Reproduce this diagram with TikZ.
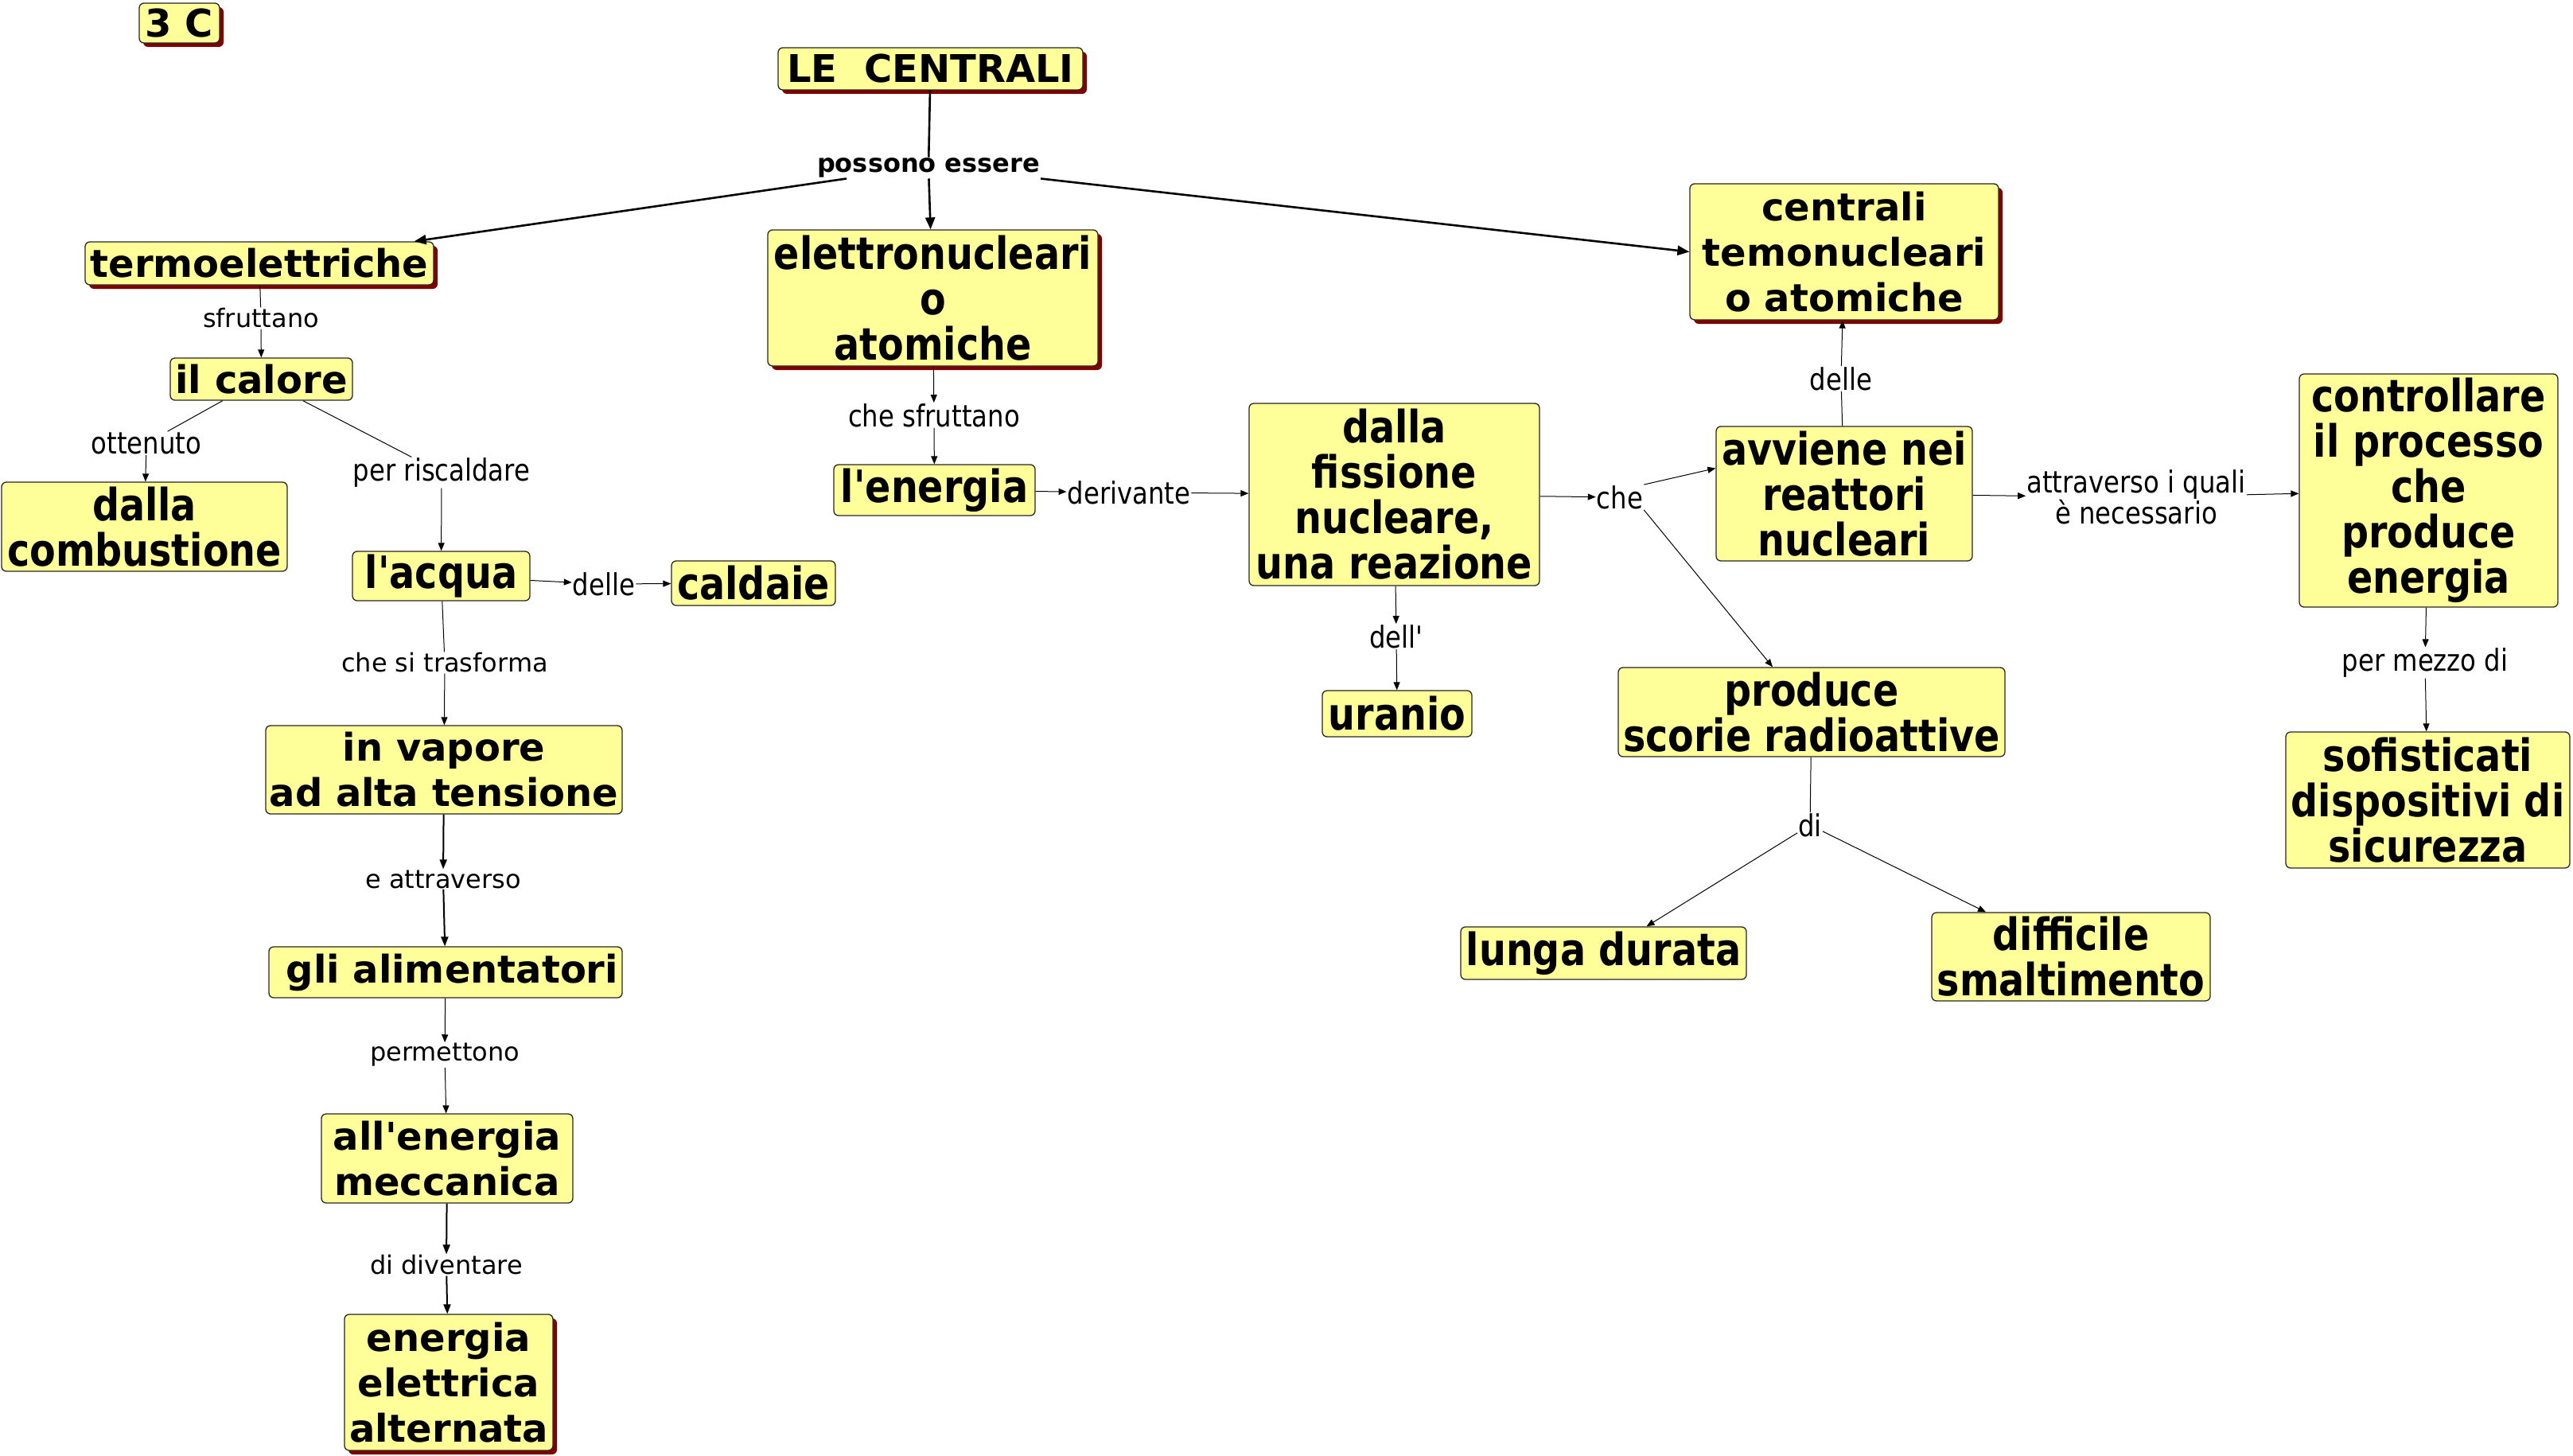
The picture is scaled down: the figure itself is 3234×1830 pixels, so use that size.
\documentclass[tikz,border=0pt]{standalone}
\usepackage{fontspec}
\setmainfont{DejaVu Sans}
\newfontfamily\wfont{DejaVu Sans}
\newfontfamily\cfont[FakeStretch=0.85]{DejaVu Sans}
\usetikzlibrary{arrows.meta,shadows}
\definecolor{boxfill}{HTML}{FFFF99}
\definecolor{shadowred}{HTML}{800000}
\tikzset{
  box/.style={draw=black!85, line width=1.3pt, fill=boxfill, rounded corners=6pt, inner sep=0pt, align=center},
  wbox/.style={box, font=\wfont\bfseries\fontsize{48}{57}\selectfont},
  cbox/.style={box, font=\cfont\bfseries\fontsize{56}{57}\selectfont},
  shad/.style={drop shadow={shadow xshift=5pt, shadow yshift=-5pt, fill=shadowred, opacity=1}},
  wlab/.style={inner sep=1pt, align=center, font=\wfont\fontsize{32}{38}\selectfont},
  clab/.style={inner sep=1pt, align=center, font=\cfont\fontsize{38}{37}\selectfont},
  blab/.style={inner sep=1pt, align=center, font=\wfont\bfseries\fontsize{32}{38}\selectfont},
  ln/.style={draw, line width=1pt},
  arr/.style={ln, -{Triangle[length=10pt,width=8pt]}},
  mln/.style={draw, line width=2pt},
  marr/.style={mln, -{Triangle[length=12pt,width=9pt]}},
  tln/.style={draw, line width=2.6pt},
  tarr/.style={tln, -{Triangle[length=15pt,width=12pt]}},
}
\begin{document}
\begin{tikzpicture}[x=1pt,y=-1pt]
\fill[white] (0,0) rectangle (3234,1830);
\useasboundingbox (0,0) rectangle (3234,1830);

% boxes
\node[wbox, shad, minimum width=101, minimum height=50] (c3) at (225.5,29) {3 C};
\node[wbox, shad, minimum width=383, minimum height=53] (lec) at (1169.5,86.5) {LE\ \ CENTRALI};
\node[wbox, shad, minimum width=438, minimum height=54] (termo) at (326,331) {termoelettriche};
\node[wbox, minimum width=229, minimum height=53] (calore) at (328.5,476.5) {il calore};
\node[cbox, minimum width=359, minimum height=112] (comb) at (181.5,662) {dalla\\combustione};
\node[cbox, minimum width=223, minimum height=62] (acqua) at (554.5,724) {l'acqua};
\node[cbox, minimum width=206, minimum height=56] (caldaie) at (947,733) {caldaie};
\node[wbox, minimum width=448, minimum height=111] (vapore) at (558,967.5) {in vapore\\ad alta tensione};
\node[wbox, minimum width=444, minimum height=64] (alim) at (560,1222) {\ gli alimentatori};
\node[wbox, minimum width=316, minimum height=112] (mecc) at (562,1456) {all'energia\\meccanica};
\node[wbox, shad, minimum width=262, minimum height=171] (elett) at (564,1737.5) {energia\\elettrica\\alternata};
\node[cbox, shad, minimum width=415, minimum height=171] (elnuc) at (1172.5,374.5) {elettronucleari\\o\\atomiche};
\node[cbox, minimum width=253, minimum height=64] (energia) at (1174.5,616) {l'energia};
\node[cbox, minimum width=365, minimum height=229] (fiss) at (1752.5,621.5) {dalla\\fissione\\nucleare,\\una reazione};
\node[cbox, minimum width=188, minimum height=58] (uranio) at (1756,897) {uranio};
\node[wbox, shad, minimum width=388, minimum height=171] (centr) at (2318,316.5) {centrali\\temonucleari\\o atomiche};
\node[cbox, minimum width=322, minimum height=169] (avv) at (2318,620.5) {avviene nei\\reattori\\nucleari};
\node[cbox, minimum width=325, minimum height=293] (contr) at (3052.5,616.5) {controllare\\il processo\\che\\produce\\energia};
\node[cbox, minimum width=357, minimum height=171] (sofi) at (3051.5,1005.5) {sofisticati\\dispositivi di\\sicurezza};
\node[cbox, minimum width=486, minimum height=112] (prod) at (2277,895) {produce\\scorie radioattive};
\node[cbox, minimum width=359, minimum height=66] (lunga) at (2015.5,1198) {lunga durata};
\node[cbox, minimum width=350, minimum height=111] (diff) at (2603,1202.5) {difficile\\smaltimento};

% labels
\node[blab] (pe) at (1167,211) {possono essere};
\node[wlab] (sfr) at (328,400) {sfruttano};
\node[clab] (ott) at (184,557) {ottenuto};
\node[clab] (perr) at (555,594) {per riscaldare};
\node[clab] (delle1) at (759,734) {delle};
\node[wlab] (chest) at (559,833) {che si trasforma};
\node[wlab] (eattr) at (557,1105) {e attraverso};
\node[wlab] (perm) at (559,1326) {permettono};
\node[wlab] (didiv) at (561,1590) {di diventare};
\node[clab] (chesfr) at (1174,522) {che sfruttano};
\node[clab] (deriv) at (1419,619) {derivante};
\node[clab] (dell) at (1755,800) {dell'};
\node[clab] (che) at (2036,625) {che};
\node[clab] (delle2) at (2314,476) {delle};
\node[clab] (attr) at (2685,625) {attraverso i quali\\è necessario};
\node[clab] (pmd) at (3048,833) {per mezzo di};
\node[clab] (di) at (2275,1037) {di};

% connectors
\draw[tln] (lec) -- (pe);
\draw[tarr] (pe) -- (elnuc);
\draw[tarr] ([xshift=38pt]pe.south west) -- ([xshift=-25pt]termo.north east);
\draw[tarr] (pe.south east) -- (centr.west);

\draw[ln] (termo) -- (sfr);
\draw[arr] (sfr) -- (calore);
\draw[ln] (calore) -- (ott);
\draw[arr] (ott) -- (comb);
\draw[ln] (calore) -- (perr);
\draw[arr] (perr) -- (acqua);
\draw[arr] (acqua) -- (delle1);
\draw[arr] (delle1) -- (caldaie);
\draw[ln] (acqua) -- (chest);
\draw[arr] (chest) -- (vapore);
\draw[marr] (vapore) -- (eattr);
\draw[marr] (eattr) -- (alim);
\draw[arr] (alim) -- (perm);
\draw[arr] (perm) -- (mecc);
\draw[marr] (mecc) -- (didiv);
\draw[marr] (didiv) -- (elett);

\draw[arr] (elnuc) -- (chesfr);
\draw[arr] (chesfr) -- (energia);
\draw[arr] (energia) -- (deriv);
\draw[arr] (deriv) -- (fiss);
\draw[arr] (fiss) -- (dell);
\draw[arr] (dell) -- (uranio);
\draw[arr] (fiss) -- (che);
\draw[arr] (che.north east) -- ([yshift=32pt]avv.west);
\draw[arr] (che.south east) -- ([xshift=-49pt]prod.north);
\draw[ln] (avv) -- (delle2);
\draw[arr] (delle2) -- (centr);
\draw[arr] (avv) -- (attr);
\draw[arr] (attr) -- (contr);
\draw[arr] (contr) -- (pmd);
\draw[arr] (pmd) -- (sofi);
\draw[ln] (prod) -- (di);
\draw[arr] (di) -- ([xshift=54pt]lunga.north);
\draw[arr] (di) -- ([xshift=-107pt]diff.north);
\end{tikzpicture}
\end{document}
